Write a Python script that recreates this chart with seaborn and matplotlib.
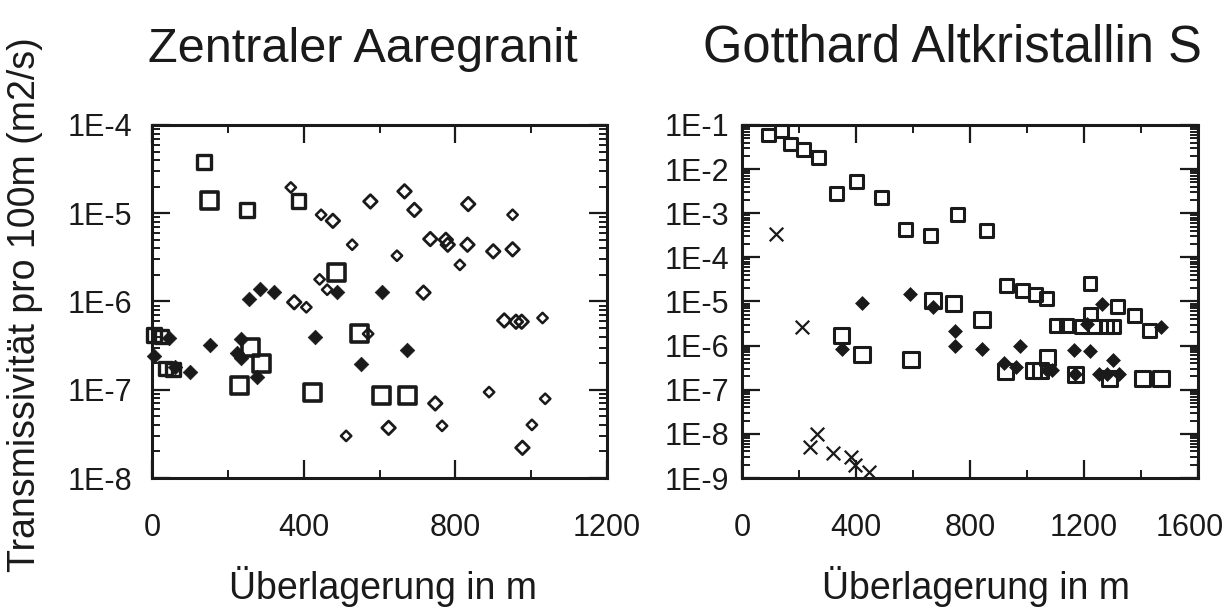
import matplotlib
matplotlib.use("Agg")
import matplotlib.pyplot as plt
import matplotlib.ticker as mticker
import matplotlib.transforms as mtransforms
import numpy as np
import pandas as pd
import seaborn as sns

# --- Zentraler Aaregranit (left panel) ---
L_SQ_BIG_X = [152, 486, 260, 289, 230, 424, 606, 674, 547]
L_SQ_BIG_Y = [1.4e-5, 2.14e-6, 3.05e-7, 2.0e-7, 1.12e-7, 9.2e-8, 8.7e-8, 8.5e-8, 4.3e-7]
L_SQ_SMALL_X = [137, 251, 386, 5, 25, 35, 55]
L_SQ_SMALL_Y = [3.8e-5, 1.09e-5, 1.38e-5, 4.2e-7, 4.0e-7, 1.75e-7, 1.7e-7]
L_FD_X = [45, 5, 60, 100, 152, 234, 223, 236, 277, 256, 286, 322, 429, 489, 550, 607, 673]
L_FD_Y = [3.9e-7, 2.4e-7, 1.8e-7, 1.6e-7, 3.2e-7, 3.8e-7, 2.6e-7, 2.3e-7, 1.4e-7,
          1.07e-6, 1.37e-6, 1.27e-6, 4.0e-7, 1.27e-6, 1.97e-7, 1.27e-6, 2.8e-7]
L_OD_BIG_X = [477, 576, 666, 692, 834, 734, 775, 780, 832, 900, 951, 716, 929, 960, 975,
              624, 977, 747, 375]
L_OD_BIG_Y = [8.2e-6, 1.36e-5, 1.77e-5, 1.09e-5, 1.27e-5, 5.1e-6, 5.0e-6, 4.4e-6, 4.4e-6,
              3.7e-6, 3.9e-6, 1.26e-6, 6.1e-7, 5.9e-7, 5.9e-7, 3.7e-8, 2.2e-8, 7.0e-8, 9.8e-7]
L_OD_SMALL_X = [366, 446, 528, 442, 462, 407, 951, 646, 812, 1030, 570, 889, 1037, 765, 1002, 512]
L_OD_SMALL_Y = [1.96e-5, 9.6e-6, 4.4e-6, 1.78e-6, 1.36e-6, 8.6e-7, 9.6e-6, 3.3e-6, 2.6e-6,
                6.5e-7, 4.3e-7, 9.4e-8, 7.9e-8, 3.9e-8, 4.0e-8, 3.0e-8]

# --- Gotthard Altkristallin S (right panel) ---
R_SQ_SMALL_X = [92, 140, 171, 216, 268, 333, 401, 489, 575, 661, 757, 858, 928, 983, 1030,
                1069, 1104, 1139, 1221, 1224, 1317, 1376, 1429, 1190, 1237, 1278, 1302]
R_SQ_SMALL_Y = [5.9e-2, 7.3e-2, 3.7e-2, 2.8e-2, 1.8e-2, 2.8e-3, 5.3e-3, 2.3e-3, 4.2e-4, 3.1e-4,
                9.3e-4, 4.0e-4, 2.3e-5, 1.8e-5, 1.45e-5, 1.15e-5, 2.9e-6, 2.9e-6, 2.6e-5, 5.2e-6,
                7.7e-6, 4.8e-6, 2.2e-6, 2.7e-6, 2.7e-6, 2.7e-6, 2.7e-6]
R_SQ_BIG_X = [350, 421, 593, 670, 743, 842, 1071, 1405, 1470, 924, 1024, 1047, 1170, 1288]
R_SQ_BIG_Y = [1.7e-6, 6.3e-7, 4.8e-7, 1.05e-5, 9.1e-6, 3.9e-6, 5.4e-7, 1.8e-7, 1.8e-7,
              2.6e-7, 2.7e-7, 2.7e-7, 2.2e-7, 1.8e-7]
R_FD_X = [421, 591, 350, 670, 749, 749, 842, 918, 960, 977, 1071, 1089, 1165, 1221, 1170,
          1212, 1264, 1300, 1253, 1282, 1323, 1470]
R_FD_Y = [9.3e-6, 1.5e-5, 8.5e-7, 7.7e-6, 2.1e-6, 9.8e-7, 8.5e-7, 4.1e-7, 3.3e-7, 1.0e-6,
          2.8e-7, 2.8e-7, 8.1e-7, 7.7e-7, 2.3e-7, 3.1e-6, 8.9e-6, 4.8e-7, 2.3e-7, 2.3e-7,
          2.3e-7, 2.6e-6]
R_X_X = [120, 210, 262, 239, 321, 383, 397, 444]
R_X_Y = [3.4e-4, 2.7e-6, 1.0e-8, 5.1e-9, 3.6e-9, 3.0e-9, 2.0e-9, 1.4e-9]

TITLES = ["Zentraler Aaregranit", "Gotthard Altkristallin S"]
XLABEL = "Überlagerung in m"
YLABEL = "Transmissivität pro 100m (m2/s)"

sns.set_style("ticks")
plt.rcParams["font.family"] = ["Liberation Sans", "DejaVu Sans"]
INK = "#1a1a1a"


def df(x, y):
    return pd.DataFrame({"x": x, "y": y})


def open_marks(ax, x, y, marker, s, lw=2.0):
    sns.scatterplot(data=df(x, y), x="x", y="y", ax=ax, marker=marker, s=s,
                    facecolor="none", edgecolor=INK, linewidth=lw, clip_on=False, zorder=3)


def filled_marks(ax, x, y, marker, s):
    sns.scatterplot(data=df(x, y), x="x", y="y", ax=ax, marker=marker, s=s,
                    color=INK, edgecolor=INK, linewidth=0.5, clip_on=False, zorder=3)


def style_axis(ax, xmax, xmajor, ylo, yhi, ypad):
    ax.set_yscale("log")
    ax.set_xlim(0, xmax)
    ax.set_ylim(ylo, yhi)
    ax.xaxis.set_major_locator(mticker.MultipleLocator(xmajor))
    ax.xaxis.set_minor_locator(mticker.MultipleLocator(xmajor / 2))
    ax.xaxis.set_minor_formatter(mticker.NullFormatter())
    ax.yaxis.set_major_locator(mticker.LogLocator(base=10, numticks=20))
    ax.yaxis.set_minor_locator(mticker.LogLocator(base=10, subs=np.arange(2, 10), numticks=20))
    ax.yaxis.set_minor_formatter(mticker.NullFormatter())
    ax.yaxis.set_major_formatter(
        mticker.FuncFormatter(lambda v, p: "1E%d" % int(round(np.log10(v)))))
    ax.tick_params(which="both", direction="in", top=True, right=True, color=INK,
                   labelcolor=INK, labelsize=22)
    ax.tick_params(which="major", length=13, width=1.6)
    ax.tick_params(which="minor", length=6, width=1.4)
    ax.tick_params(axis="x", which="both", pad=25)
    ax.tick_params(axis="y", which="both", pad=ypad)
    for sp in ax.spines.values():
        sp.set_linewidth(2.2)
        sp.set_color(INK)
    ax.set_xlabel("")
    ax.set_ylabel("")


fig = plt.figure(figsize=(12.25, 6.07), dpi=100)
ax1 = fig.add_axes([0.1241, 0.2125, 0.3714, 0.5816])
ax2 = fig.add_axes([0.6057, 0.2125, 0.3723, 0.5816])

open_marks(ax1, L_SQ_BIG_X, L_SQ_BIG_Y, "s", 150, 2.6)
open_marks(ax1, L_SQ_SMALL_X, L_SQ_SMALL_Y, "s", 95, 2.4)
filled_marks(ax1, L_FD_X, L_FD_Y, "D", 55)
open_marks(ax1, L_OD_BIG_X, L_OD_BIG_Y, "D", 48, 2.0)
open_marks(ax1, L_OD_SMALL_X, L_OD_SMALL_Y, "D", 28, 1.8)
style_axis(ax1, 1200, 400, 1e-8, 1e-4, 14)

open_marks(ax2, R_SQ_SMALL_X, R_SQ_SMALL_Y, "s", 85, 2.2)
open_marks(ax2, R_SQ_BIG_X, R_SQ_BIG_Y, "s", 120, 2.2)
filled_marks(ax2, R_FD_X, R_FD_Y, "D", 50)
sns.scatterplot(data=df(R_X_X, R_X_Y), x="x", y="y", ax=ax2, marker="x", s=95,
                color=INK, linewidth=1.6, clip_on=False, zorder=3)
style_axis(ax2, 1600, 400, 1e-9, 1e-1, 9)

fig.text(363 / 1225, 1 - 62 / 607, TITLES[0], ha="center", va="baseline", fontsize=35, color=INK)
fig.text(952 / 1225, 1 - 62 / 607, TITLES[1], ha="center", va="baseline", fontsize=36.5, color=INK)
fig.text(383 / 1225, 1 - 599 / 607, XLABEL, ha="center", va="baseline", fontsize=27, color=INK)
fig.text(976 / 1225, 1 - 599 / 607, XLABEL, ha="center", va="baseline", fontsize=27, color=INK)
fig.text(25 / 1225, 1 - 305 / 607, YLABEL, ha="center", va="center", rotation=90,
         fontsize=27, color=INK)

# nudge the last x tick label of the right panel inwards so it stays inside the figure
fig.canvas.draw()
shift = mtransforms.ScaledTranslation(-8 / 100, 0, fig.dpi_scale_trans)
for tick in ax2.xaxis.get_major_ticks():
    if abs(tick.get_loc() - 1600) < 1:
        tick.label1.set_transform(tick.label1.get_transform() + shift)

fig.savefig("out.png", dpi=100)
